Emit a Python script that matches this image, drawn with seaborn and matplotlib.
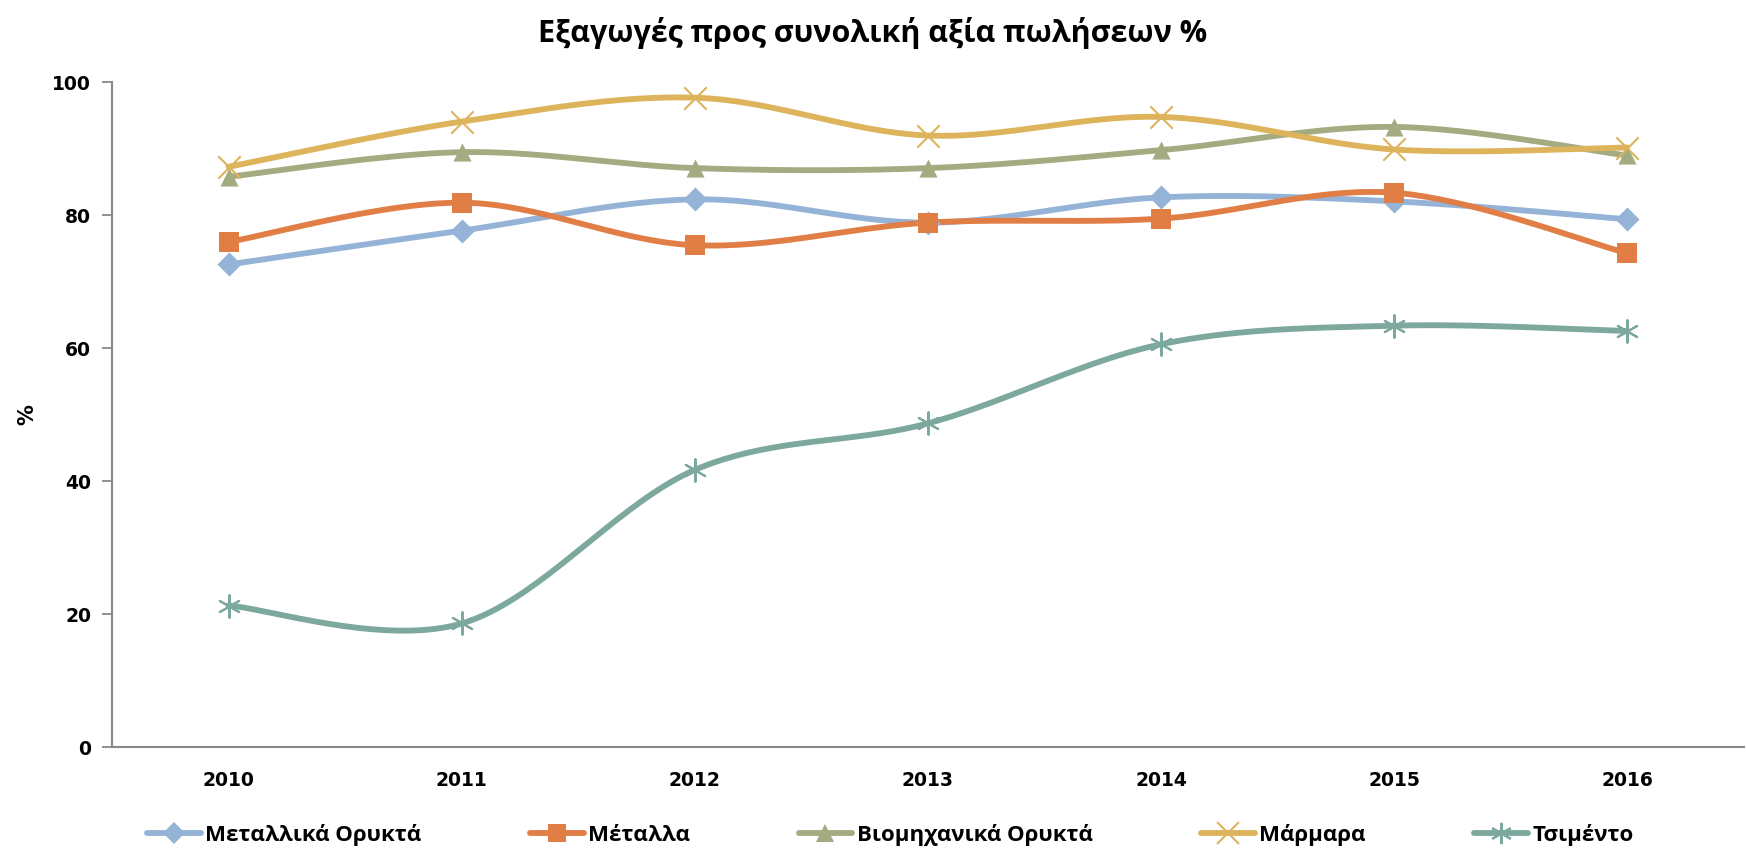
import numpy as np
import pandas as pd
import matplotlib
matplotlib.use("Agg")
import matplotlib.pyplot as plt
import seaborn as sns
from matplotlib.lines import Line2D

years = ["2010", "2011", "2012", "2013", "2014", "2015", "2016"]
series_names = ["Μεταλλικά Ορυκτά", "Μέταλλα", "Βιομηχανικά Ορυκτά", "Μάρμαρα", "Τσιμέντο"]
metallika_orykta = [72.6, 77.7, 82.4, 78.9, 82.7, 82.1, 79.4]
metalla = [76.0, 81.9, 75.5, 78.9, 79.5, 83.4, 74.3]
viomichanika_orykta = [85.8, 89.5, 87.1, 87.1, 89.8, 93.3, 89.0]
marmara = [87.3, 94.1, 97.7, 92.0, 94.8, 89.9, 90.2]
tsimento = [21.3, 18.6, 41.7, 48.7, 60.6, 63.4, 62.6]
y_ticks = [0, 20, 40, 60, 80, 100]

values = [metallika_orykta, metalla, viomichanika_orykta, marmara, tsimento]
colors = ["#95B3D7", "#E07E45", "#A3AB81", "#DDB35B", "#7CA89D"]
markers = ["D", "s", "^", "x", (6, 2, 0)]
msizes = [150, 190, 170, 260, 260]
mlw = [0, 0, 0, 1.5, 1.5]

sns.set_theme(style="white")
plt.rcParams['font.family'] = ['Open Sans', 'DejaVu Sans']
plt.rcParams.update({"text.color": "black", "axes.labelcolor": "black",
                     "xtick.color": "black", "ytick.color": "black"})

fig = plt.figure(figsize=(17.46, 8.49), dpi=100)
ax = fig.add_axes([0.0642, 0.120, 0.9345, 0.783])

def smooth_curve(xs, ys, n=40):
    pts = np.column_stack([xs, ys]).astype(float)
    out = []
    m = len(pts)
    for i in range(m - 1):
        p0 = pts[i - 1] if i > 0 else pts[i]
        p1 = pts[i]
        p2 = pts[i + 1]
        p3 = pts[i + 2] if i + 2 < m else pts[i + 1]
        c1 = p1 + (p2 - p0) / 6.0
        c2 = p2 - (p3 - p1) / 6.0
        t = np.linspace(0, 1, n, endpoint=(i == m - 2))[:, None]
        b = ((1 - t) ** 3) * p1 + 3 * ((1 - t) ** 2) * t * c1 + 3 * (1 - t) * t ** 2 * c2 + t ** 3 * p2
        out.append(b)
    return np.vstack(out)

xpos = np.arange(len(years))
handles = []
for name, vals, col, mk, ms, lw in zip(series_names, values, colors, markers, msizes, mlw):
    curve = smooth_curve(xpos, vals)
    dfc = pd.DataFrame({"x": curve[:, 0], "y": curve[:, 1]})
    sns.lineplot(data=dfc, x="x", y="y", ax=ax, color=col, lw=4.2, sort=False,
                 estimator=None, legend=False)
    dfp = pd.DataFrame({"x": xpos, "y": vals})
    if lw > 0:
        sns.scatterplot(data=dfp, x="x", y="y", ax=ax, marker=mk, s=ms, color=col,
                        linewidth=lw, legend=False, zorder=5)
    else:
        sns.scatterplot(data=dfp, x="x", y="y", ax=ax, marker=mk, s=ms, color=col,
                        edgecolor=col, linewidth=0, legend=False, zorder=5)
    handles.append(Line2D([0], [0], color=col, lw=4.2, marker=mk,
                          markersize=(np.sqrt(ms) * 0.95), markeredgewidth=(lw if lw > 0 else 0),
                          markerfacecolor=col, markeredgecolor=col, label=name))

tickfont = ["DejaVu Sans"]
ax.set_xlim(-0.5, len(years) - 0.5)
ax.set_ylim(0, 100)
ax.set_yticks(y_ticks)
ax.set_yticklabels([str(v) for v in y_ticks], fontsize=13.5, fontweight="bold", family=tickfont)
ax.set_xticks(xpos)
ax.set_xticklabels(years, fontsize=13.5, fontweight="bold", family=tickfont)
ax.set_xticks(np.arange(-0.5, len(years), 1.0), minor=True)
ax.tick_params(axis="x", which="major", length=0, pad=17)
ax.tick_params(axis="x", which="minor", length=8, width=1.3, color="#888888", direction="out")
ax.tick_params(axis="y", which="major", length=7, width=1.3, color="#888888", direction="out", pad=8, left=True)
ax.set_xlabel("")
ax.set_ylabel("%", fontsize=15, fontweight="bold", family=tickfont)
ax.yaxis.set_label_coords(-0.046, 0.5)
for s in ["top", "right"]:
    ax.spines[s].set_visible(False)
for s in ["left", "bottom"]:
    ax.spines[s].set_color("#888888")
    ax.spines[s].set_linewidth(1.5)
ax.grid(False)

fig.suptitle("Εξαγωγές προς συνολική αξία πωλήσεων %", x=0.5, y=0.98, fontsize=22, fontweight="bold")

fig.legend(handles=handles, loc="lower center", bbox_to_anchor=(0.510, -0.02), ncol=5,
           frameon=False, prop={"family": ["Open Sans", "DejaVu Sans"], "weight": "bold", "size": 16},
           handlelength=2.4, handletextpad=0.2, columnspacing=4.9)

fig.savefig("out.png", dpi=100)
